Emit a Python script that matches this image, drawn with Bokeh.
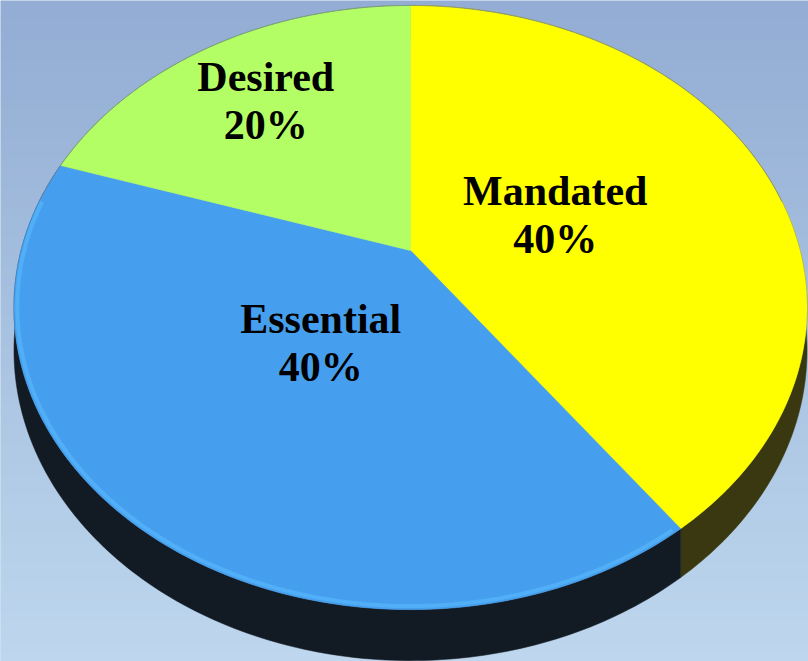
import numpy as np
from bokeh.plotting import figure
from bokeh.models import Range1d, ColumnDataSource
from bokeh.embed import file_html
from bokeh.resources import INLINE
from bokeh.core.properties import value

# ---- data ----
categories = ["Mandated", "Essential", "Desired"]
shares = [40, 40, 20]
pct_labels = ["40%", "40%", "20%"]

# ---- styles ----
top_colors = ["#ffff00", "#469fee", "#b4fe65"]
side_colors = ["#393810", "#121a23", "#3f5a22"]
label_radius = [0.4, 0.37, 0.7]

W, H = 808, 661
CX, CY = 410.0, 250.0      # projected pie centre
A, B, K = 389.4, 291.3, 0.1888  # perspective projection params
D = 41.4                   # thickness


def proj(theta_deg, r=1.0, depth=0.0):
    t = np.radians(theta_deg)
    u = r * np.sin(t)
    v = r * np.cos(t)
    w = 1 + K * v
    x = CX + A * u / w
    y = CY - B * v / w + depth / w
    return x, y


p = figure(width=W, height=H, x_range=Range1d(0, W), y_range=Range1d(H, 0),
           output_backend="svg", toolbar_location=None, min_border=0,
           x_axis_type=None, y_axis_type=None)
p.grid.visible = False
p.outline_line_color = None
p.background_fill_color = "#a8c4e2"
p.border_fill_color = "#a8c4e2"

# background gradient bands
c0 = np.array([147, 173, 212])
c1 = np.array([190, 215, 238])
nb = 67
edges = np.linspace(0, H, nb + 1)
bcols = []
for i in range(nb):
    f = i / (nb - 1)
    c = (c0 * (1 - f) + c1 * f).astype(int)
    bcols.append("#%02x%02x%02x" % tuple(c))
p.quad(left=0, right=W, top=edges[:-1], bottom=edges[1:] + 0.5,
       color=bcols, line_color=None)

# slice angles (clockwise from 12 o'clock)
total = float(sum(shares))
starts, ends = [], []
acc = 0.0
for s in shares:
    starts.append(acc / total * 360.0)
    acc += s
    ends.append(acc / total * 360.0)

# side walls
sxs, sys_ = [], []
for t0, t1 in zip(starts, ends):
    th = np.linspace(t0, t1, 160)
    tx, ty = proj(th)
    bx, by = proj(th, depth=D)
    sxs.append(list(np.concatenate([tx, bx[::-1]])))
    sys_.append(list(np.concatenate([ty, by[::-1]])))
p.patches(xs=sxs, ys=sys_, fill_color=side_colors, line_color=side_colors,
          line_width=0.5)

# top faces
txs, tys = [], []
for t0, t1 in zip(starts, ends):
    th = np.linspace(t0, t1, 200)
    ax, ay = proj(th)
    txs.append([CX] + list(ax))
    tys.append([CY] + list(ay))
p.patches(xs=txs, ys=tys, fill_color=top_colors, line_color=top_colors,
          line_width=0.6)

# light rim on front edge of the blue slice
th = np.linspace(starts[1] + 1, ends[1] - 8, 200)
rx, ry = proj(th, r=0.992)
p.line(rx, ry, line_color="#5bbcff", line_width=4, line_alpha=0.55)

# thin outline on the back edge
th = np.linspace(-80, 80, 200)
ox, oy = proj(th)
p.line(ox, oy, line_color="#6d8196", line_width=1, line_alpha=0.7)

# labels
lx, ly_name, ly_pct = [], [], []
for t0, t1, r in zip(starts, ends, label_radius):
    mx, my = proj((t0 + t1) / 2.0, r=r)
    lx.append(float(mx))
    ly_name.append(float(my) - 24)
    ly_pct.append(float(my) + 24)

src = ColumnDataSource(dict(x=lx, yn=ly_name, yp=ly_pct,
                            name=categories, pct=pct_labels))
for ycol, tcol in (("yn", "name"), ("yp", "pct")):
    p.text(x="x", y=ycol, text=tcol, source=src,
           text_font=value("Liberation Serif"), text_font_style="bold",
           text_font_size="42px", text_color="#000000",
           text_align="center", text_baseline="alphabetic")

open("out.html", "w").write(file_html(p, INLINE))
